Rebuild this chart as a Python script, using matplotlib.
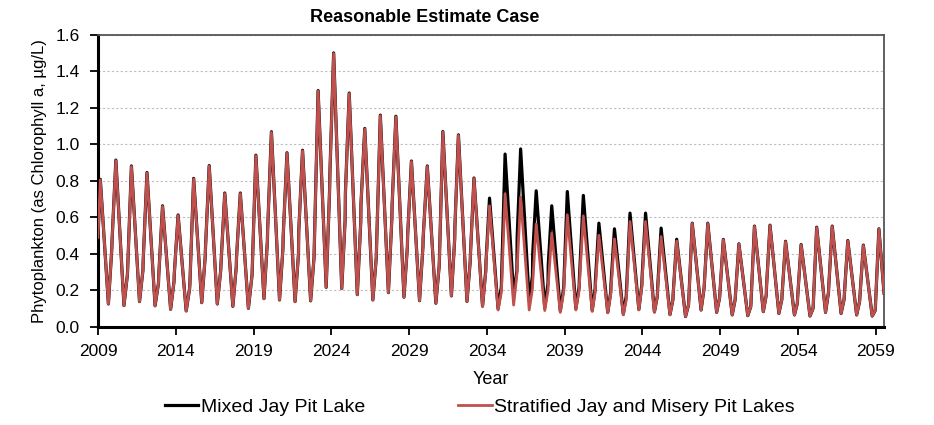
import matplotlib
matplotlib.use("Agg")
import matplotlib.pyplot as plt
from matplotlib.ticker import MultipleLocator, FormatStrFormatter

plt.rcParams['font.family'] = ['Liberation Sans', 'DejaVu Sans']

years = list(range(2009, 2060))

# Annual bloom peak, late-year minimum and the step on the rising limb
# (shoulder low / high) toward the next year's bloom, in ug/L chlorophyll a.
strat_peak = [0.805, 0.910, 0.878, 0.842, 0.660, 0.610, 0.810, 0.880, 0.730, 0.730,
              0.937, 1.065, 0.950, 0.964, 1.290, 1.496, 1.277, 1.083, 1.156, 1.150,
              0.905, 0.878, 1.066, 1.048, 0.812, 0.663, 0.729, 0.711, 0.564, 0.513,
              0.614, 0.608, 0.502, 0.482, 0.577, 0.577, 0.495, 0.470, 0.566, 0.566,
              0.477, 0.453, 0.550, 0.555, 0.467, 0.449, 0.544, 0.550, 0.471, 0.446,
              0.535]
strat_trough = [0.126, 0.117, 0.139, 0.116, 0.097, 0.088, 0.133, 0.126, 0.113, 0.102,
                0.155, 0.148, 0.139, 0.143, 0.217, 0.210, 0.177, 0.148, 0.188, 0.163,
                0.144, 0.130, 0.170, 0.140, 0.111, 0.093, 0.120, 0.093, 0.090, 0.080,
                0.093, 0.085, 0.077, 0.066, 0.093, 0.080, 0.066, 0.057, 0.093, 0.080,
                0.066, 0.062, 0.084, 0.074, 0.066, 0.060, 0.080, 0.074, 0.066, 0.060]
strat_shoulder_lo = [0.430, 0.285, 0.310, 0.240, 0.250, 0.210, 0.380, 0.310, 0.330, 0.270,
                     0.470, 0.430, 0.400, 0.380, 0.750, 0.590, 0.570, 0.380, 0.590, 0.440,
                     0.440, 0.330, 0.480, 0.360, 0.300, 0.190, 0.290, 0.210, 0.200, 0.190,
                     0.200, 0.190, 0.180, 0.150, 0.220, 0.170, 0.150, 0.120, 0.210, 0.160,
                     0.150, 0.110, 0.175, 0.150, 0.130, 0.100, 0.190, 0.150, 0.140, 0.090]
strat_shoulder_hi = [0.475, 0.310, 0.360, 0.280, 0.290, 0.230, 0.420, 0.340, 0.380, 0.285,
                     0.530, 0.495, 0.520, 0.440, 0.830, 0.730, 0.670, 0.430, 0.660, 0.500,
                     0.490, 0.360, 0.550, 0.400, 0.350, 0.220, 0.320, 0.240, 0.230, 0.210,
                     0.230, 0.220, 0.200, 0.170, 0.250, 0.200, 0.180, 0.140, 0.230, 0.180,
                     0.170, 0.130, 0.220, 0.175, 0.160, 0.110, 0.220, 0.170, 0.160, 0.110]

mixed_peak = [0.808, 0.913, 0.881, 0.845, 0.663, 0.613, 0.813, 0.883, 0.733, 0.733,
              0.940, 1.068, 0.953, 0.967, 1.293, 1.499, 1.280, 1.086, 1.159, 1.153,
              0.908, 0.881, 1.069, 1.051, 0.815, 0.705, 0.946, 0.974, 0.745, 0.663,
              0.741, 0.720, 0.568, 0.537, 0.623, 0.623, 0.541, 0.480, 0.568, 0.568,
              0.479, 0.455, 0.552, 0.557, 0.469, 0.451, 0.546, 0.552, 0.473, 0.448,
              0.537]
mixed_trough = [0.126, 0.117, 0.139, 0.116, 0.097, 0.088, 0.133, 0.126, 0.113, 0.102,
                0.155, 0.148, 0.139, 0.143, 0.217, 0.210, 0.177, 0.148, 0.188, 0.163,
                0.144, 0.130, 0.170, 0.140, 0.115, 0.100, 0.172, 0.145, 0.105, 0.088,
                0.100, 0.090, 0.080, 0.070, 0.096, 0.083, 0.068, 0.057, 0.093, 0.080,
                0.066, 0.062, 0.084, 0.074, 0.066, 0.060, 0.080, 0.074, 0.066, 0.060]
mixed_shoulder_lo = [0.430, 0.285, 0.310, 0.240, 0.250, 0.210, 0.380, 0.310, 0.330, 0.270,
                     0.470, 0.430, 0.400, 0.380, 0.750, 0.590, 0.570, 0.380, 0.590, 0.440,
                     0.440, 0.330, 0.480, 0.360, 0.310, 0.220, 0.310, 0.280, 0.240, 0.210,
                     0.220, 0.210, 0.190, 0.170, 0.230, 0.170, 0.150, 0.120, 0.210, 0.160,
                     0.150, 0.110, 0.175, 0.150, 0.130, 0.100, 0.190, 0.150, 0.140, 0.090]
mixed_shoulder_hi = [0.475, 0.310, 0.360, 0.280, 0.290, 0.230, 0.420, 0.340, 0.380, 0.285,
                     0.530, 0.495, 0.520, 0.440, 0.830, 0.730, 0.670, 0.430, 0.660, 0.500,
                     0.490, 0.360, 0.550, 0.400, 0.360, 0.270, 0.490, 0.400, 0.340, 0.230,
                     0.260, 0.250, 0.230, 0.200, 0.270, 0.210, 0.180, 0.140, 0.230, 0.180,
                     0.170, 0.130, 0.220, 0.175, 0.160, 0.110, 0.220, 0.170, 0.160, 0.110]

# Values at the first and last time step of the simulation
start_time, start_value = 2009.0, 0.49
end_time, end_value = 2059.53, 0.186

# Seasonal timing (fraction of the year) of peak, minimum and shoulder,
# which drifts later over the simulation
era_start = [2009, 2030, 2040]
peak_offset = [0.15, 0.17, 0.20]
trough_offset = [0.67, 0.72, 0.77]
shoulder_offset = [0.89, 0.93, 0.96]


def era_of(year):
    idx = 0
    for k, s in enumerate(era_start):
        if year >= s:
            idx = k
    return idx


def build_series(peaks, troughs, sh_lo, sh_hi):
    t = [start_time]
    v = [start_value]
    for i, yr in enumerate(years):
        e = era_of(yr)
        t.append(yr + peak_offset[e])
        v.append(peaks[i])
        if i < len(troughs):
            t += [yr + trough_offset[e], yr + shoulder_offset[e],
                  yr + shoulder_offset[e] + 0.015]
            v += [troughs[i], sh_lo[i], sh_hi[i]]
    t.append(end_time)
    v.append(end_value)
    return t, v


t_mix, v_mix = build_series(mixed_peak, mixed_trough, mixed_shoulder_lo, mixed_shoulder_hi)
t_str, v_str = build_series(strat_peak, strat_trough, strat_shoulder_lo, strat_shoulder_hi)

fig = plt.figure(figsize=(9.34, 4.25), dpi=100)
ax = fig.add_axes([0.1049, 0.2306, 0.8416, 0.6882])

ax.plot(t_mix, v_mix, color='black', lw=2.3, solid_joinstyle='round',
        label='Mixed Jay Pit Lake', zorder=3)
ax.plot(t_str, v_str, color='#C0504D', lw=2.0, solid_joinstyle='round',
        label='Stratified Jay and Misery Pit Lakes', zorder=4)

ax.set_xlim(2009, end_time)
ax.set_ylim(0, 1.6)
ax.set_xticks(list(range(2009, 2060, 5)))
ax.yaxis.set_major_locator(MultipleLocator(0.2))
ax.yaxis.set_major_formatter(FormatStrFormatter('%.1f'))

ax.grid(axis='y', color='#bdbdbd', linestyle=(0, (2, 2)), lw=0.8, zorder=0)
ax.set_axisbelow(True)

for side in ('left', 'bottom'):
    ax.spines[side].set_linewidth(2.2)
    ax.spines[side].set_color('black')
for side in ('top', 'right'):
    ax.spines[side].set_linewidth(1.3)
    ax.spines[side].set_color('#555555')

ax.tick_params(axis='both', direction='out', length=6, width=1.3,
               labelsize=12.5, colors='black')
ax.tick_params(axis='y', pad=7)
ax.tick_params(axis='x', pad=6)

ax.set_xlabel('Year', fontsize=13, labelpad=9)
ax.set_ylabel('Phytoplankton (as Chlorophyll a, \u00b5g/L)', fontsize=12, labelpad=6)

fig.text(425 / 934, 1 - 17 / 425, 'Reasonable Estimate Case', fontsize=13,
         fontweight='bold', ha='center', va='center')

fig.legend(loc='center', bbox_to_anchor=(480 / 934, 18 / 425), ncol=2, frameon=False,
           fontsize=14, handlelength=1.7, handletextpad=0.15, columnspacing=4.8)

fig.savefig('out.png', dpi=100)
